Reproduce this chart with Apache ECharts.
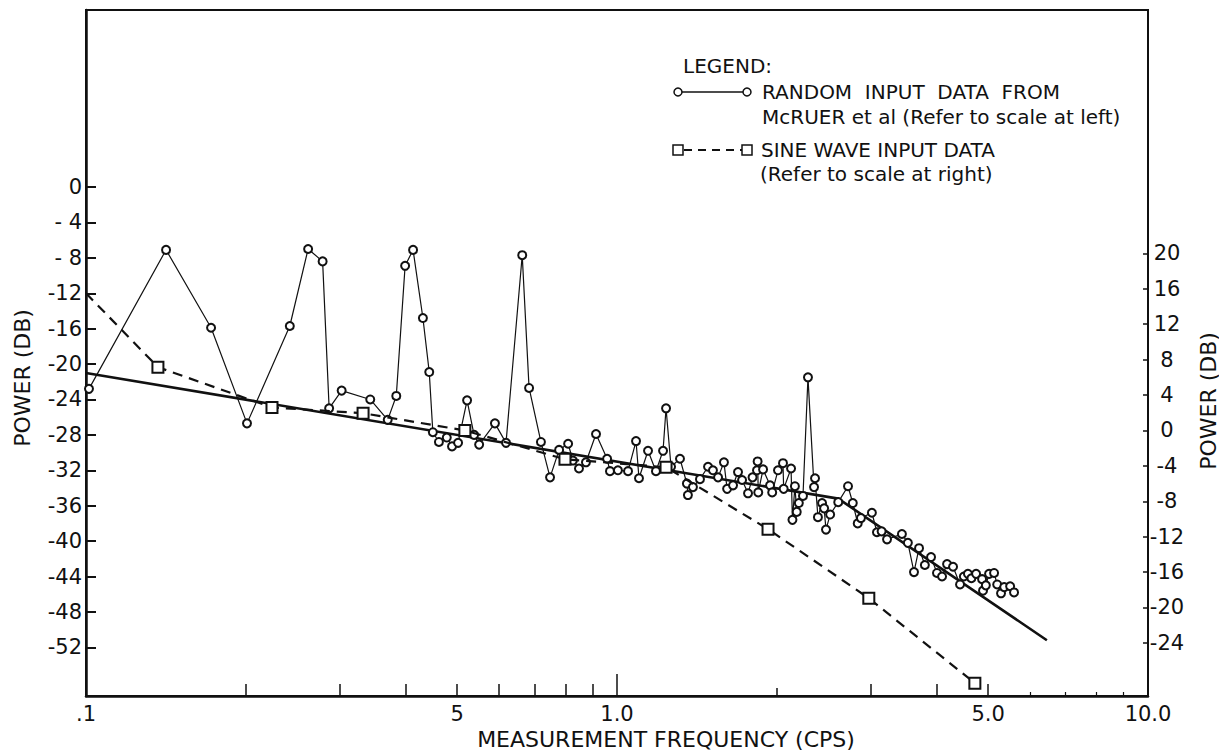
<!DOCTYPE html>
<html>
<head>
<meta charset="utf-8">
<script src="https://cdn.jsdelivr.net/npm/echarts@6/dist/echarts.min.js"></script>
<style>
  html, body { margin: 0; padding: 0; background: #fff; }
  #chart { width: 1219px; height: 752px; }
</style>
</head>
<body>
<div id="chart"></div>
<script>
// Random-input power spectrum (McRuer et al), left scale: [frequency cps, power dB]
const randomInput = [
  [0.1013,-22.8],[0.1415,-7.1],[0.172,-15.9],[0.201,-26.7],[0.242,-15.7],[0.262,-7.0],
  [0.279,-8.4],[0.287,-25.0],[0.303,-23.0],[0.343,-24.0],[0.370,-26.3],[0.384,-23.6],
  [0.399,-8.9],[0.413,-7.1],[0.431,-14.8],[0.443,-20.9],[0.450,-27.7],[0.462,-28.8],
  [0.478,-28.3],[0.489,-29.3],[0.502,-28.9],[0.522,-24.1],[0.538,-28.0],[0.550,-29.1],
  [0.589,-26.7],[0.618,-28.9],[0.663,-7.7],[0.683,-22.7],[0.719,-28.8],[0.748,-32.8],
  [0.778,-29.7],[0.809,-29.0],[0.826,-30.9],[0.848,-31.8],[0.874,-31.1],[0.913,-27.9],
  [0.958,-30.7],[0.970,-32.1],[1.004,-32.0],[1.049,-32.1],[1.086,-28.7],[1.100,-32.9],
  [1.144,-29.8],[1.184,-32.1],[1.221,-29.8],[1.237,-25.0],[1.264,-31.6],[1.314,-30.7],
  [1.354,-33.5],[1.360,-34.8],[1.390,-33.9],[1.433,-33.0],[1.484,-31.6],[1.516,-32.0],
  [1.550,-32.8],[1.590,-31.1],[1.612,-34.1],[1.654,-33.7],[1.690,-32.2],[1.720,-33.1],
  [1.765,-34.6],[1.800,-32.8],[1.835,-32.0],[1.840,-31.0],[1.845,-34.5],[1.884,-31.9],
  [1.942,-33.7],[1.960,-34.5],[2.010,-32.0],[2.054,-31.2],[2.060,-34.1],[2.127,-31.8],
  [2.140,-37.6],[2.163,-33.8],[2.180,-36.7],[2.200,-35.7],[2.240,-34.9],[2.289,-21.5],
  [2.350,-33.9],[2.360,-32.9],[2.390,-37.3],[2.433,-35.7],[2.455,-36.3],[2.475,-38.7],
  [2.520,-37.0],[2.610,-35.6],[2.723,-33.8],[2.780,-35.7],[2.840,-38.0],[2.880,-37.4],
  [3.020,-36.8],[3.087,-39.0],[3.150,-38.9],[3.225,-39.8],[3.440,-39.2],[3.530,-40.2],
  [3.625,-43.5],[3.705,-40.8],[3.800,-42.7],[3.903,-41.8],[4.005,-43.6],[4.094,-44.0],
  [4.184,-42.6],[4.294,-42.9],[4.426,-44.9],[4.500,-44.0],[4.580,-43.7],[4.650,-44.2],
  [4.745,-43.7],[4.870,-44.3],[4.890,-45.6],[4.950,-45.0],[5.020,-43.7],[5.130,-43.6],
  [5.200,-44.9],[5.287,-45.9],[5.360,-45.2],[5.500,-45.1],[5.594,-45.8]
];

// Straight-line fit through the random-input data (left scale)
const fitLine = [[0.1,-21.0],[2.61,-35.2],[6.45,-51.2]];

// Sine-wave input data, right scale: [frequency cps, power dB]
const sineInput = [
  [0.1,15.5],[0.1366,7.15],[0.224,2.6],[0.3325,1.95],[0.517,0.0],[0.798,-3.25],
  [1.237,-4.15],[1.925,-11.15],[2.98,-18.95],[4.72,-28.55]
];

// Axis ticks and labels
const xTickValues = [0.1, 0.5, 1, 5, 10];
const xTickLabels = ['.1', '5', '1.0', '5.0', '10.0'];
const xTicksMid = [0.2, 0.3, 0.4, 0.5, 0.6, 0.7, 0.8, 0.9, 3, 4, 5];
const xTicksLong = [1];
const xTicksTwo = [2];
const xTicksShort = [6, 7, 8, 9];
const yLeftTickValues = [0,-4,-8,-12,-16,-20,-24,-28,-32,-36,-40,-44,-48,-52];
const yLeftTickLabels = ['0','- 4','- 8','-12','-16','-20','-24','-28','-32','-36','-40','-44','-48','-52'];
const yRightTickValues = [20,16,12,8,4,0,-4,-8,-12,-16,-20,-24];
const yRightTickLabels = ['20','16','12','8','4','0','-4','-8','-12','-16','-20','-24'];

const INK = '#111';
const FONT = '"DejaVu Sans", "Liberation Sans", sans-serif';

function nearestLabel(values, labels, v) {
  let best = 0, bestD = Infinity;
  values.forEach((t, i) => {
    const d = Math.abs(Math.log(t) - Math.log(v));
    if (d < bestD) { bestD = d; best = i; }
  });
  return labels[best];
}
function exactLabel(values, labels, v) {
  let best = 0, bestD = Infinity;
  values.forEach((t, i) => {
    const d = Math.abs(t - v);
    if (d < bestD) { bestD = d; best = i; }
  });
  return labels[best];
}

// Extra bottom axes that only carry ticks of a given length
function tickAxis(values, len, width) {
  return {
    type: 'log', logBase: 10, min: 0.1, max: 10, position: 'bottom', gridIndex: 0,
    axisLine: { show: false, onZero: false },
    splitLine: { show: false },
    axisLabel: { show: false },
    axisTick: { show: true, inside: true, length: len, customValues: values,
                lineStyle: { color: INK, width: width } }
  };
}

const chart = echarts.init(document.getElementById('chart'), null, { renderer: 'svg' });

chart.setOption({
  animation: false,
  backgroundColor: '#fff',
  grid: {
    left: 86, top: 10, right: 71, bottom: 56,
    show: true, borderColor: INK, borderWidth: 2, backgroundColor: 'transparent'
  },
  xAxis: [
    {
      type: 'log', logBase: 10, min: 0.1, max: 10, position: 'bottom',
      axisLine: { show: true, onZero: false, lineStyle: { color: INK, width: 2.5 } },
      splitLine: { show: false },
      minorTick: { show: false },
      axisTick: { show: true, inside: true, length: 12, customValues: xTicksMid,
                  lineStyle: { color: INK, width: 1.5 } },
      axisLabel: {
        customValues: xTickValues, margin: 7, color: INK, fontSize: 21, fontFamily: FONT,
        formatter: v => nearestLabel(xTickValues, xTickLabels, v)
      }
    },
    tickAxis(xTicksLong, 22, 1.5),
    tickAxis(xTicksTwo, 8, 1.5),
    tickAxis(xTicksShort, 4, 1.2)
  ],
  yAxis: [
    {
      type: 'value', min: -57.5, max: 20, position: 'left',
      axisLine: { show: true, onZero: false, lineStyle: { color: INK, width: 2.5 } },
      splitLine: { show: false },
      axisTick: { show: true, inside: true, length: 10, customValues: yLeftTickValues,
                  lineStyle: { color: INK, width: 2 } },
      axisLabel: {
        customValues: yLeftTickValues, margin: 4, color: INK, fontSize: 21, fontFamily: FONT,
        formatter: v => exactLabel(yLeftTickValues, yLeftTickLabels, v)
      }
    },
    {
      type: 'value', min: -30, max: 47.5, position: 'right',
      axisLine: { show: true, onZero: false, lineStyle: { color: INK, width: 1.6 } },
      splitLine: { show: false },
      axisTick: { show: true, inside: true, length: 5, customValues: yRightTickValues,
                  lineStyle: { color: INK, width: 1.5 } },
      axisLabel: {
        customValues: yRightTickValues, margin: 19, align: 'center', color: INK,
        fontSize: 21, fontFamily: FONT,
        formatter: v => exactLabel(yRightTickValues, yRightTickLabels, v)
      }
    }
  ],
  series: [
    {
      name: 'RANDOM INPUT DATA FROM McRUER et al',
      type: 'line', xAxisIndex: 0, yAxisIndex: 0,
      data: randomInput,
      symbol: 'emptyCircle', symbolSize: 8, showAllSymbol: true,
      lineStyle: { color: INK, width: 1.2 },
      itemStyle: { color: INK, borderColor: INK, borderWidth: 1.3 },
      z: 4
    },
    {
      name: 'Fit',
      type: 'line', xAxisIndex: 0, yAxisIndex: 0,
      data: fitLine,
      symbol: 'none',
      lineStyle: { color: INK, width: 2.6 },
      z: 3
    },
    {
      name: 'SINE WAVE INPUT DATA',
      type: 'line', xAxisIndex: 0, yAxisIndex: 1,
      data: sineInput.map((p, i) => i === 0 ? { value: p, symbol: 'none' } : p),
      symbol: 'emptyRect', symbolSize: 11, showAllSymbol: true,
      lineStyle: { color: INK, width: 2.2, type: [10, 7] },
      itemStyle: { color: INK, borderColor: INK, borderWidth: 1.6 },
      z: 5
    }
  ],
  graphic: [
    // axis titles
    { type: 'text', x: 22, y: 378, rotation: Math.PI / 2,
      style: { text: 'POWER (DB)', align: 'center', verticalAlign: 'middle', fill: INK,
               font: '22px ' + FONT } },
    { type: 'text', x: 1208, y: 401, rotation: Math.PI / 2,
      style: { text: 'POWER (DB)', align: 'center', verticalAlign: 'middle', fill: INK,
               font: '22px ' + FONT } },
    { type: 'text', x: 666, y: 739,
      style: { text: 'MEASUREMENT FREQUENCY (CPS)', align: 'center', verticalAlign: 'middle',
               fill: INK, font: '22px ' + FONT } },
    // legend
    { type: 'text', x: 683, y: 66,
      style: { text: 'LEGEND:', align: 'left', verticalAlign: 'middle', fill: INK, font: '20px ' + FONT } },
    { type: 'line', shape: { x1: 682, y1: 92, x2: 743, y2: 92 },
      style: { stroke: INK, lineWidth: 1.5 } },
    { type: 'circle', shape: { cx: 678, cy: 92, r: 4 },
      style: { fill: '#fff', stroke: INK, lineWidth: 1.5 } },
    { type: 'circle', shape: { cx: 747, cy: 92, r: 4 },
      style: { fill: '#fff', stroke: INK, lineWidth: 1.5 } },
    { type: 'text', x: 762, y: 92,
      style: { text: 'RANDOM  INPUT  DATA  FROM', align: 'left', verticalAlign: 'middle', fill: INK, font: '20px ' + FONT } },
    { type: 'text', x: 762, y: 117,
      style: { text: 'McRUER et al (Refer to scale at left)', align: 'left', verticalAlign: 'middle', fill: INK, font: '20px ' + FONT } },
    { type: 'line', shape: { x1: 684, y1: 150, x2: 742, y2: 150 },
      style: { stroke: INK, lineWidth: 2.2, lineDash: [8, 6] } },
    { type: 'rect', shape: { x: 673, y: 145, width: 10, height: 10 },
      style: { fill: '#fff', stroke: INK, lineWidth: 1.5 } },
    { type: 'rect', shape: { x: 742, y: 145, width: 10, height: 10 },
      style: { fill: '#fff', stroke: INK, lineWidth: 1.5 } },
    { type: 'text', x: 761, y: 150,
      style: { text: 'SINE WAVE INPUT DATA', align: 'left', verticalAlign: 'middle', fill: INK, font: '20px ' + FONT } },
    { type: 'text', x: 760, y: 174,
      style: { text: '(Refer to scale at right)', align: 'left', verticalAlign: 'middle', fill: INK, font: '20px ' + FONT } }
  ]
});
</script>
</body>
</html>
